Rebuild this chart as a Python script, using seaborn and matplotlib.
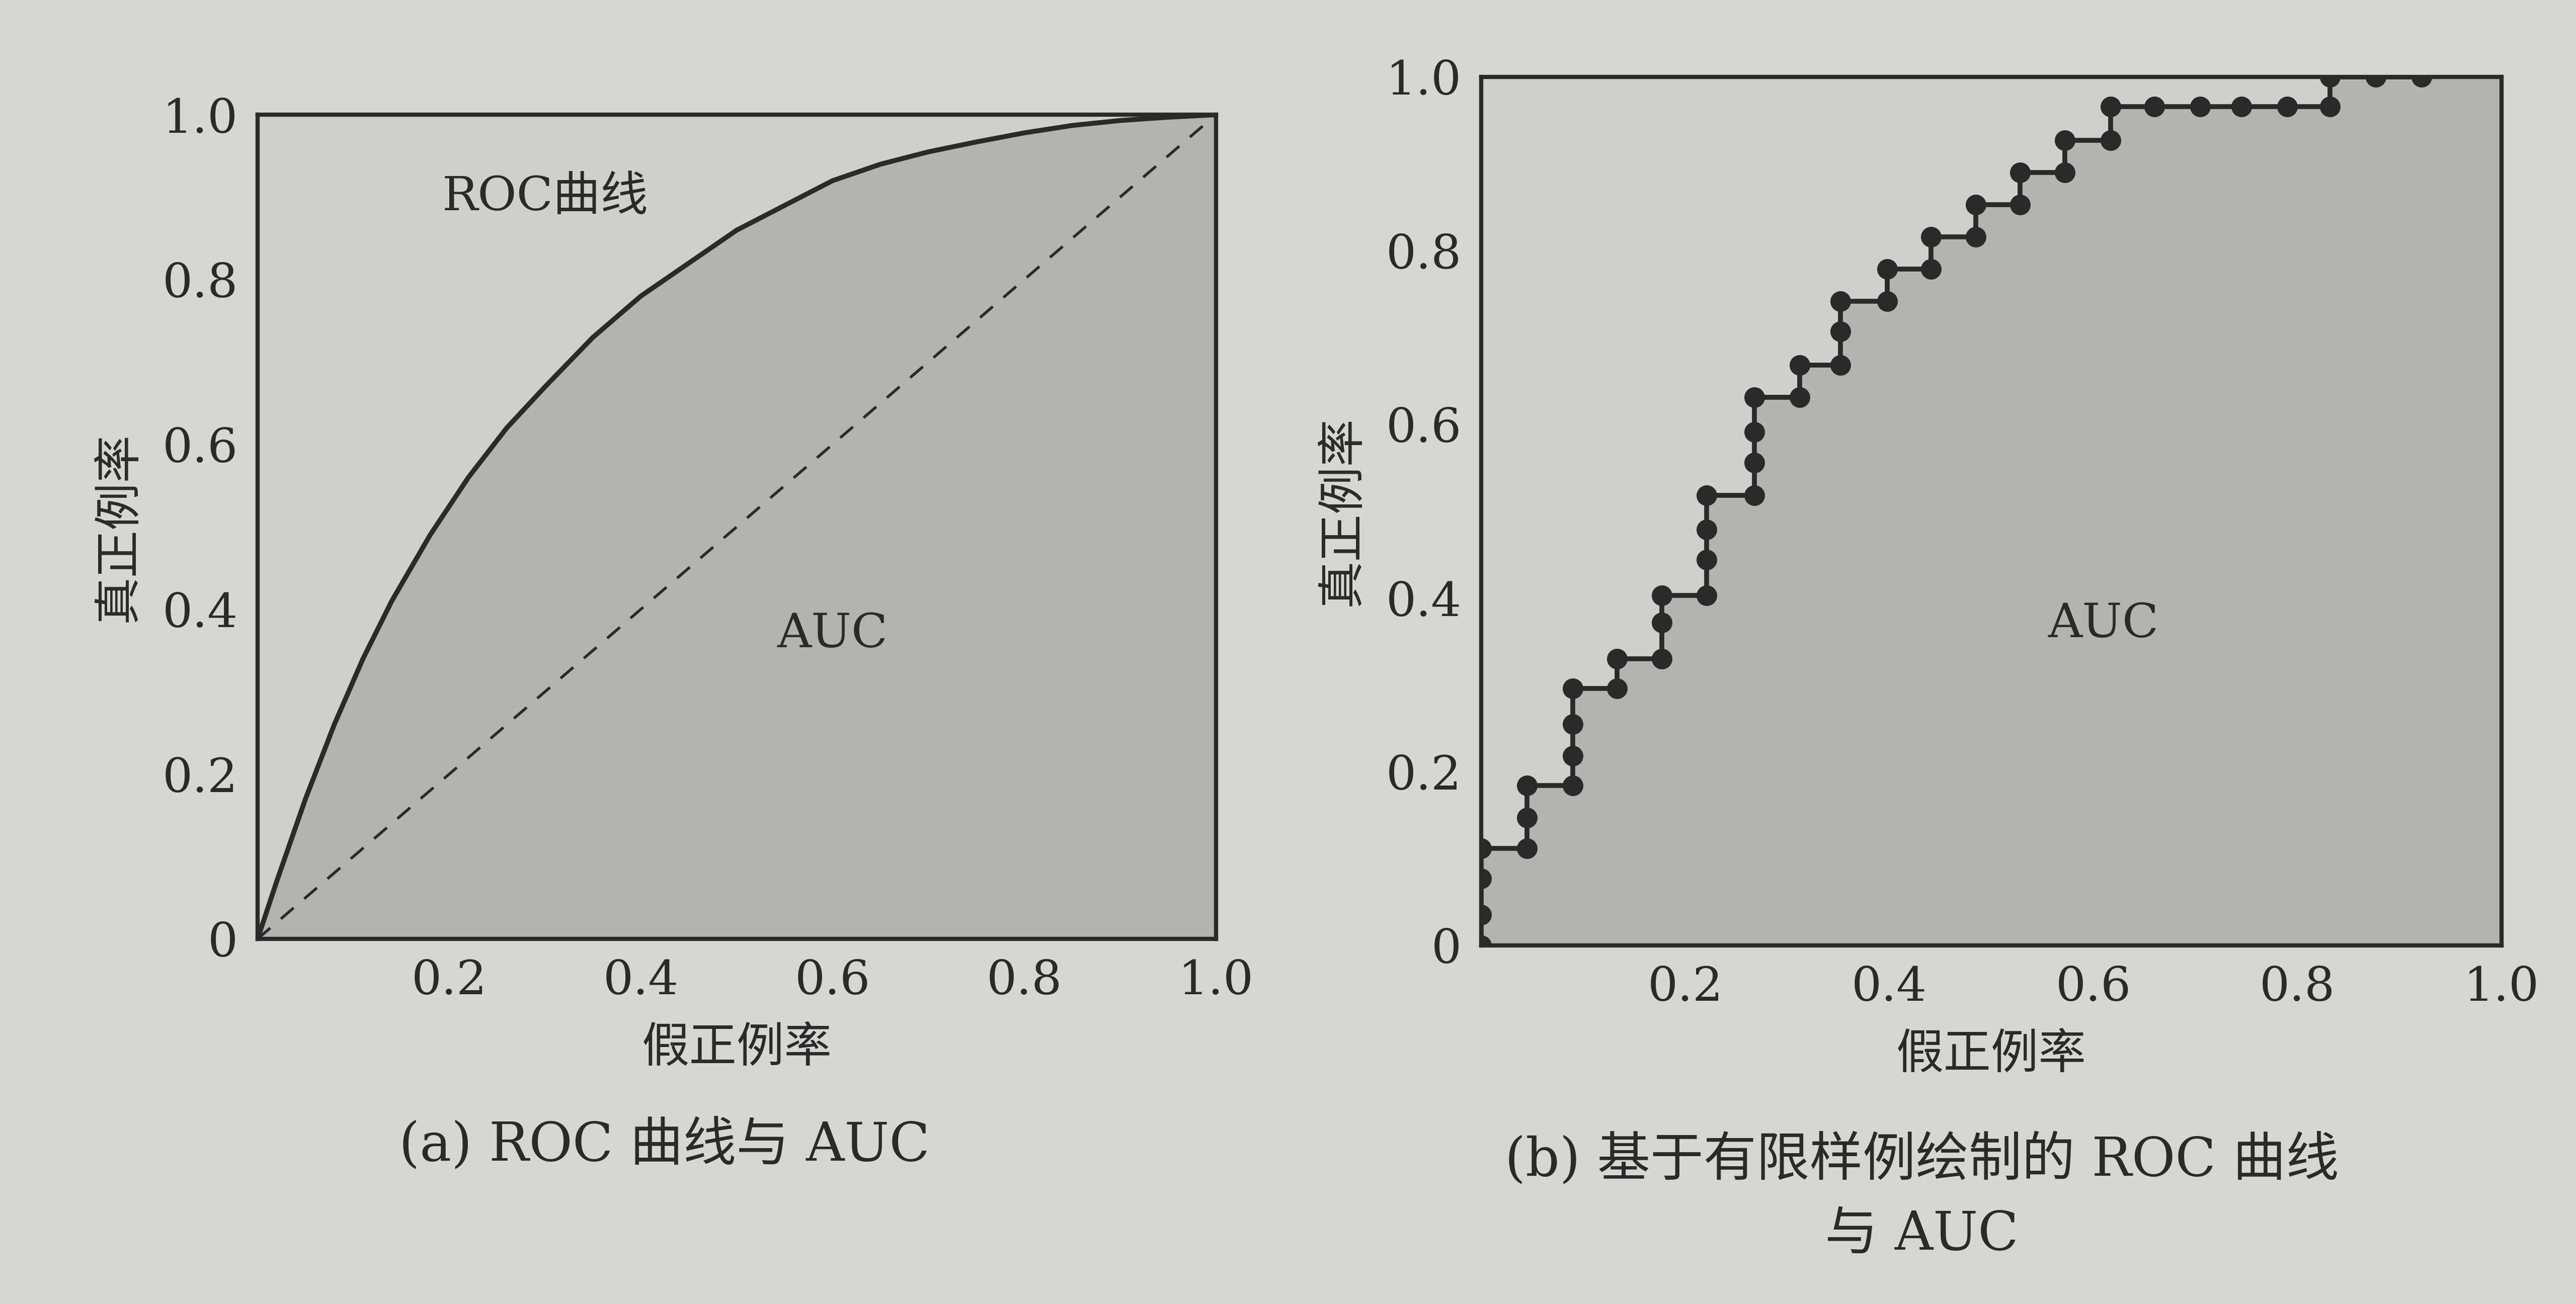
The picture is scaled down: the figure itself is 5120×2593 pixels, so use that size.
import matplotlib
matplotlib.use("Agg")
import matplotlib.pyplot as plt
import seaborn as sns
import pandas as pd

sns.set_theme(style="white")
FONT = ['DejaVu Serif', 'Noto Sans CJK SC']
plt.rcParams['font.family'] = FONT

# Panel (a): smooth ROC curve
roc_a_fpr = [0.0, 0.02, 0.05, 0.08, 0.11, 0.14, 0.18, 0.22, 0.26, 0.30, 0.35, 0.40, 0.45,
             0.50, 0.55, 0.60, 0.65, 0.70, 0.75, 0.80, 0.85, 0.90, 0.95, 1.0]
roc_a_tpr = [0.0, 0.07, 0.17, 0.26, 0.34, 0.41, 0.49, 0.56, 0.62, 0.67, 0.73, 0.78, 0.82,
             0.86, 0.89, 0.92, 0.94, 0.955, 0.967, 0.978, 0.987, 0.993, 0.997, 1.0]
diag = [0.0, 1.0]

# Panel (b): finite-sample ROC (step points)
roc_b_fpr = [0, 0, 0, 0,
             0.045, 0.045, 0.045,
             0.09, 0.09, 0.09, 0.09,
             0.133, 0.133,
             0.177, 0.177, 0.177,
             0.221, 0.221, 0.221, 0.221,
             0.268, 0.268, 0.268, 0.268,
             0.312, 0.312,
             0.352, 0.352, 0.352,
             0.398, 0.398,
             0.441, 0.441,
             0.485, 0.485,
             0.528, 0.528,
             0.572, 0.572,
             0.617, 0.617,
             0.66, 0.705, 0.745, 0.79,
             0.832, 0.832,
             0.877, 0.922]
roc_b_tpr = [0, 0.035, 0.077, 0.112,
             0.112, 0.147, 0.184,
             0.184, 0.218, 0.255, 0.296,
             0.296, 0.33,
             0.33, 0.372, 0.403,
             0.403, 0.444, 0.479, 0.518,
             0.518, 0.556, 0.591, 0.631,
             0.631, 0.668,
             0.668, 0.707, 0.742,
             0.742, 0.779,
             0.779, 0.816,
             0.816, 0.853,
             0.853, 0.89,
             0.89, 0.927,
             0.927, 0.966,
             0.966, 0.966, 0.966, 0.966,
             0.966, 1.0,
             1.0, 1.0]

BG = '#d6d6d3'
AXBG = '#cfcfcc'
FILL = '#b3b3b0'
INK = '#2a2a2a'

fig = plt.figure(figsize=(25.6, 12.965), dpi=200, facecolor=BG)

def style(ax, xt, xl, yt, yl):
    ax.set_facecolor(AXBG)
    ax.set_xlim(0, 1); ax.set_ylim(0, 1)
    ax.set_xticks(xt); ax.set_xticklabels(xl)
    ax.set_yticks(yt); ax.set_yticklabels(yl)
    ax.tick_params(direction='in', length=10, width=2, colors=INK, labelsize=34, pad=14)
    for s in ax.spines.values():
        s.set_color(INK); s.set_linewidth(3)
    ax.set_xlabel('假正例率', fontsize=34, color=INK, family=['Noto Sans CJK SC'], labelpad=14)
    ax.set_ylabel('真正例率', fontsize=34, color=INK, family=['Noto Sans CJK SC'], labelpad=14)

# (a)
ax1 = fig.add_axes([0.100, 0.280, 0.372, 0.632])
dfa = pd.DataFrame({'fpr': roc_a_fpr, 'tpr': roc_a_tpr})
ax1.fill_between(dfa['fpr'], dfa['tpr'], color=FILL, lw=0)
sns.lineplot(data=dfa, x='fpr', y='tpr', ax=ax1, color=INK, lw=3.5, sort=False, estimator=None)
sns.lineplot(x=diag, y=diag, ax=ax1, color=INK, lw=2, linestyle=(0, (6, 5)), estimator=None)
style(ax1, [0.2, 0.4, 0.6, 0.8, 1.0], ['0.2', '0.4', '0.6', '0.8', '1.0'],
      [0, 0.2, 0.4, 0.6, 0.8, 1.0], ['0', '0.2', '0.4', '0.6', '0.8', '1.0'])
ax1.text(0.3, 0.9, 'ROC曲线', fontsize=34, color=INK, ha='center', va='center')
ax1.text(0.6, 0.37, 'AUC', fontsize=34, color=INK, ha='center', va='center')

# (b)
ax2 = fig.add_axes([0.575, 0.275, 0.396, 0.666])
dfb = pd.DataFrame({'fpr': roc_b_fpr, 'tpr': roc_b_tpr})
ax2.fill_between(list(dfb['fpr']) + [1.0], list(dfb['tpr']) + [1.0], color=FILL, lw=0)
sns.lineplot(data=dfb, x='fpr', y='tpr', ax=ax2, color=INK, lw=3.5, sort=False, estimator=None,
             marker='o', markersize=14, markeredgecolor=INK, markerfacecolor=INK)
style(ax2, [0.2, 0.4, 0.6, 0.8, 1.0], ['0.2', '0.4', '0.6', '0.8', '1.0'],
      [0, 0.2, 0.4, 0.6, 0.8, 1.0], ['0', '0.2', '0.4', '0.6', '0.8', '1.0'])
ax2.text(0.61, 0.37, 'AUC', fontsize=34, color=INK, ha='center', va='center')

fig.text(0.258, 0.122, '(a) ROC 曲线与 AUC', fontsize=38, color=INK, ha='center', va='center')
fig.text(0.746, 0.11, '(b) 基于有限样例绘制的 ROC 曲线', fontsize=38, color=INK, ha='center', va='center')
fig.text(0.746, 0.053, '与 AUC', fontsize=38, color=INK, ha='center', va='center')

fig.savefig('out.png', dpi=200, facecolor=BG)
